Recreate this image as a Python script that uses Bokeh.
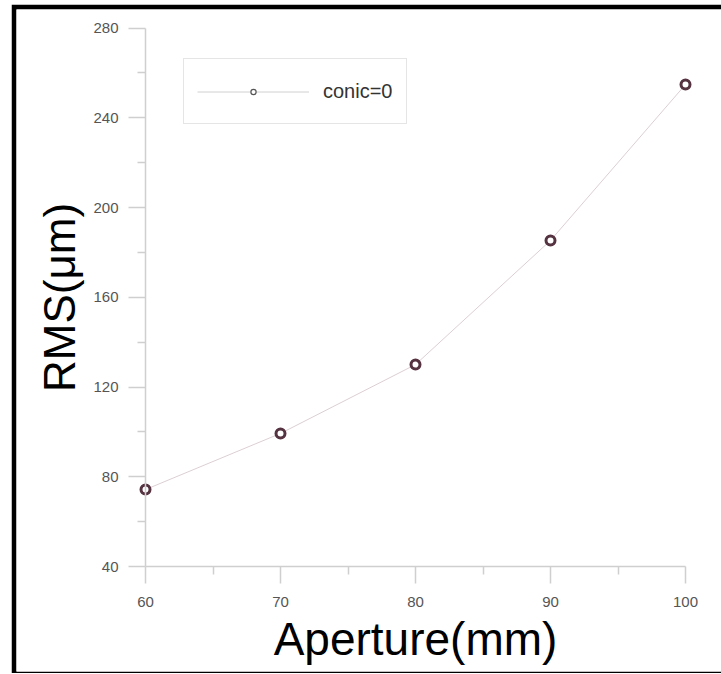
from bokeh.plotting import figure
from bokeh.models import Range1d, LinearAxis, FixedTicker, Legend, LegendItem
from bokeh.embed import file_html
from bokeh.resources import INLINE

# ---- data ----
aperture = [60, 70, 80, 90, 100]
rms = [74.3, 99.3, 130.0, 185.3, 254.8]
series_label = "conic=0"
x_major = [60, 70, 80, 90, 100]
x_minor = [65, 75, 85, 95]
y_major = [40, 80, 120, 160, 200, 240, 280]
y_minor = [60, 100, 140, 180, 220, 260]

W, H = 715, 669
SHOWN_W = 710                 # css max-width of the page element
BL, BT, BB = 5, 5, 2          # black frame border (left, top, bottom)
FW, FH = SHOWN_W - BL, H - BT - BB  # plot frame size as rendered
# pixel mapping inside frame: x 60->129, 100->669 ; y 280->18.5, 40->557
x0 = 60 - 129 / 13.5
x1 = 100 + (FW - 669) / 13.5
ppu = 538.5 / 240
y1 = 280 + 18.5 / ppu
y0 = 40 - (FH - 557) / ppu
p = figure(width=W, height=H,
           x_range=Range1d(x0, x1), y_range=Range1d(y0, y1),
           output_backend="svg", toolbar_location=None,
           x_axis_location=None, y_axis_location=None, min_border=0)
p.min_border_left = BL
p.min_border_top = BT
p.min_border_bottom = BB
p.min_border_right = 0
p.grid.visible = False
p.outline_line_color = None
p.background_fill_color = "white"
p.border_fill_color = "black"
p.styles = {"margin-top": "4px", "margin-left": "11px",
            "max-width": f"{SHOWN_W}px", "overflow": "hidden"}

AX = "#cfcfcf"
FONT = "Liberation Sans"

def style_axis(ax, label, size):
    ax.axis_label = label
    ax.axis_line_color = AX
    ax.axis_line_width = 1.5
    ax.major_tick_line_color = AX
    ax.major_tick_line_width = 1.5
    ax.minor_tick_line_color = AX
    ax.minor_tick_line_width = 1.5
    ax.major_tick_out = 17
    ax.major_tick_in = 0
    ax.minor_tick_out = 8
    ax.minor_tick_in = 0
    ax.major_label_text_font = FONT
    ax.major_label_text_font_size = "15px"
    ax.major_label_text_color = "#555555"
    ax.axis_label_text_font = FONT
    ax.axis_label_text_font_size = size
    ax.axis_label_text_font_style = "normal"
    ax.axis_label_text_color = "black"

xaxis = LinearAxis(fixed_location=40, bounds=(60, 100),
                   ticker=FixedTicker(ticks=x_major, minor_ticks=x_minor))
style_axis(xaxis, "Aperture(mm)", "46px")
xaxis.major_label_standoff = 13
xaxis.axis_label_standoff = 3
yaxis = LinearAxis(fixed_location=60, bounds=(40, 280),
                   ticker=FixedTicker(ticks=y_major, minor_ticks=y_minor))
style_axis(yaxis, "RMS(μm)", "44px")
yaxis.major_label_standoff = 10
yaxis.axis_label_standoff = 6
p.add_layout(xaxis, "below")
p.add_layout(yaxis, "left")

LINE_C = "#dccfd3"
MARK_C = "#553340"
p.line(aperture, rms, line_color=LINE_C, line_width=1)
p.scatter(aperture, rms, size=9, line_width=3, line_color=MARK_C, fill_color="white")

# legend proxies (hidden renderers, shown only in the legend)
leg_line = p.line(aperture, rms, line_color="#d0d0d0", line_width=1, visible=False)
leg_mark = p.scatter(aperture, rms, size=5, line_width=1.2, line_color="#555555",
                     fill_color="white", visible=False)
legend = Legend(items=[LegendItem(label=series_label, renderers=[leg_line, leg_mark])],
                location=(167, FH - 115), border_line_color="#cccccc", border_line_width=1.5,
                background_fill_color="white", background_fill_alpha=1,
                label_text_font=FONT, label_text_font_size="20px", label_text_color="#333333",
                padding=13, margin=0, glyph_width=112, glyph_height=13, label_height=38,
                label_standoff=14, spacing=0)
p.add_layout(legend)

open("out.html", "w").write(file_html(p, INLINE))
